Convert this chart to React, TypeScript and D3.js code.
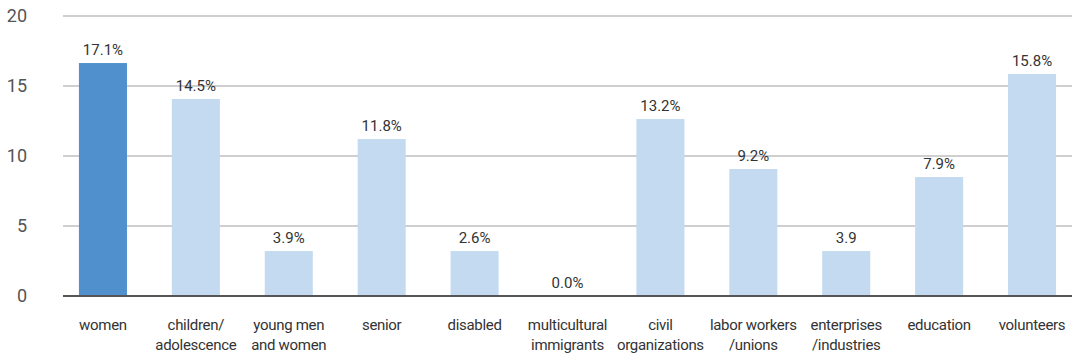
import React from "react";
import * as d3 from "d3";

const categories: string[][] = [
  ["women"],
  ["children/", "adolescence"],
  ["young men", "and women"],
  ["senior"],
  ["disabled"],
  ["multicultural", "immigrants"],
  ["civil", "organizations"],
  ["labor workers", "/unions"],
  ["enterprises", "/industries"],
  ["education"],
  ["volunteers"],
];
const barValues = [16.64, 14.07, 3.21, 11.21, 3.21, 0, 12.64, 9.07, 3.21, 8.5, 15.86];
const valueLabels = ["17.1%", "14.5%", "3.9%", "11.8%", "2.6%", "0.0%", "13.2%", "9.2%", "3.9", "7.9%", "15.8%"];
const yTicks = [0, 5, 10, 15, 20];
const highlightIndex = 0;

const W = 1077;
const H = 360;

export default function App() {
  const x = d3
    .scaleBand<number>()
    .domain(d3.range(categories.length))
    .range([56.5, 1078.5])
    .paddingInner(0.483)
    .paddingOuter(0.2415);
  const y = d3.scaleLinear().domain([0, 20]).range([296, 16]);
  const font = "Roboto, 'Liberation Sans', sans-serif";

  return (
    <svg
      width={W}
      height={H}
      style={{ position: "absolute", left: 0, top: 0, background: "#fff" }}
      fontFamily={font}
    >
      {yTicks.map((t) => (
        <g key={t}>
          {t !== 0 && (
            <line x1={63} x2={1072} y1={y(t)} y2={y(t)} stroke="#cfcfcf" strokeWidth={2} />
          )}
          <text x={27} y={y(t)} dy="0.36em" textAnchor="end" fontSize={18} fill="#555">
            {t}
          </text>
        </g>
      ))}
      {barValues.map((v, i) => (
        <rect
          key={i}
          x={x(i)}
          y={y(v)}
          width={x.bandwidth()}
          height={y(0) - y(v)}
          fill={i === highlightIndex ? "#5091cd" : "#c3daf1"}
        />
      ))}
      <line x1={63} x2={1072} y1={y(0)} y2={y(0)} stroke="#555" strokeWidth={2} />
      {barValues.map((v, i) => (
        <text
          key={i}
          x={(x(i) as number) + x.bandwidth() / 2}
          y={y(v) - 8}
          textAnchor="middle"
          fontSize={15}
          fill="#333"
        >
          {valueLabels[i]}
        </text>
      ))}
      {categories.map((lines, i) => (
        <text
          key={i}
          x={(x(i) as number) + x.bandwidth() / 2}
          y={330}
          textAnchor="middle"
          fontSize={15}
          fill="#333"
          letterSpacing={-0.3}
        >
          {lines.map((l, j) => (
            <tspan key={j} x={(x(i) as number) + x.bandwidth() / 2} dy={j === 0 ? 0 : 20}>
              {l}
            </tspan>
          ))}
        </text>
      ))}
    </svg>
  );
}
